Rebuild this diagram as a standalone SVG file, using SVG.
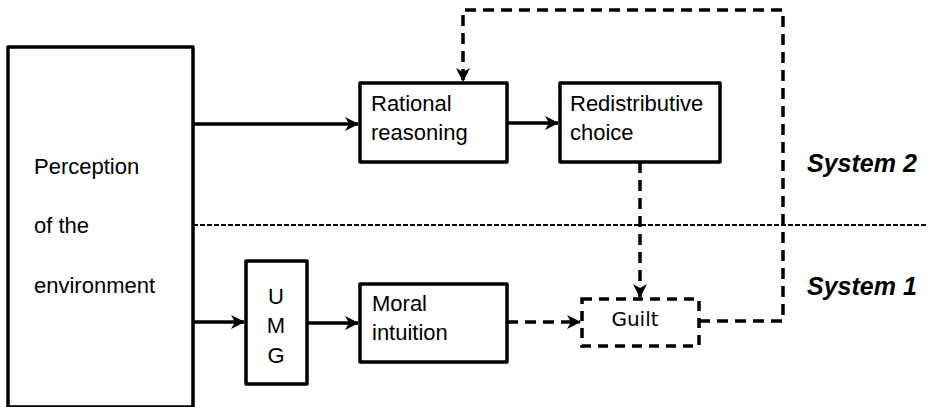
<svg xmlns="http://www.w3.org/2000/svg" width="928" height="407" viewBox="0 0 928 407">
<style>
.box{fill:#fff;stroke:#000;stroke-width:3.5;stroke-linejoin:round}
.dbox{fill:none;stroke:#000;stroke-width:3.5;stroke-dasharray:10 7}
.t{font-family:"Liberation Sans",Arial,sans-serif;font-size:22px;fill:#000}
.sys{font-family:"Liberation Sans",Arial,sans-serif;font-size:25px;font-weight:bold;font-style:italic;fill:#000}
.solid{fill:none;stroke:#000;stroke-width:3.5}
.dash{fill:none;stroke:#000;stroke-width:3.5;stroke-dasharray:11 7}
.div{fill:none;stroke:#000;stroke-width:2;stroke-dasharray:5 2}
</style>
<defs>
<marker id="ah" viewBox="0 0 14 14" refX="13" refY="7" markerWidth="14" markerHeight="14" markerUnits="userSpaceOnUse" orient="auto">
<path d="M0,0 L14,7 L0,14 L4,7 z" fill="#000"/>
</marker>
</defs>
<g id="connectors">
<line class="div" x1="193" y1="225" x2="928" y2="225"/>
<line class="solid" x1="193" y1="124" x2="358" y2="124" marker-end="url(#ah)"/>
<line class="solid" x1="507" y1="123" x2="558" y2="123" marker-end="url(#ah)"/>
<line class="solid" x1="193" y1="322" x2="244" y2="322" marker-end="url(#ah)"/>
<line class="solid" x1="307" y1="323" x2="358" y2="323" marker-end="url(#ah)"/>
<line class="dash" x1="507" y1="322" x2="580" y2="322" marker-end="url(#ah)"/>
<line class="dash" x1="640" y1="162" x2="640" y2="297" marker-end="url(#ah)"/>
<polyline class="dash" points="699,321 783,321 783,10 463,10 463,81" marker-end="url(#ah)"/>
</g>
<g id="perception">
<rect class="box" x="8" y="47" width="185" height="360"/>
<text class="t" x="34" y="174">Perception</text>
<text class="t" x="34" y="233">of the</text>
<text class="t" x="34" y="293">environment</text>
</g>
<g id="rational">
<rect class="box" x="360" y="83" width="147" height="79"/>
<text class="t" x="371" y="111">Rational</text>
<text class="t" x="371" y="140">reasoning</text>
</g>
<g id="redistributive">
<rect class="box" x="560" y="83" width="160" height="79"/>
<text class="t" x="570" y="111">Redistributive</text>
<text class="t" x="570" y="140">choice</text>
</g>
<g id="umg">
<rect class="box" x="246" y="261" width="61" height="123"/>
<text class="t" x="276" y="304" text-anchor="middle">U</text>
<text class="t" x="276" y="333" text-anchor="middle">M</text>
<text class="t" x="276" y="363" text-anchor="middle">G</text>
</g>
<g id="moral">
<rect class="box" x="360" y="284" width="147" height="78"/>
<text class="t" x="372" y="311">Moral</text>
<text class="t" x="372" y="340">intuition</text>
</g>
<g id="guilt">
<rect class="dbox" x="582" y="299" width="117" height="47"/>
<text class="t" x="635" y="326" text-anchor="middle" style="font-family:'DejaVu Sans',sans-serif;font-size:20px">Guilt</text>
</g>
<g id="labels">
<text class="sys" x="807" y="172">System 2</text>
<text class="sys" x="807" y="295">System 1</text>
</g>
</svg>
